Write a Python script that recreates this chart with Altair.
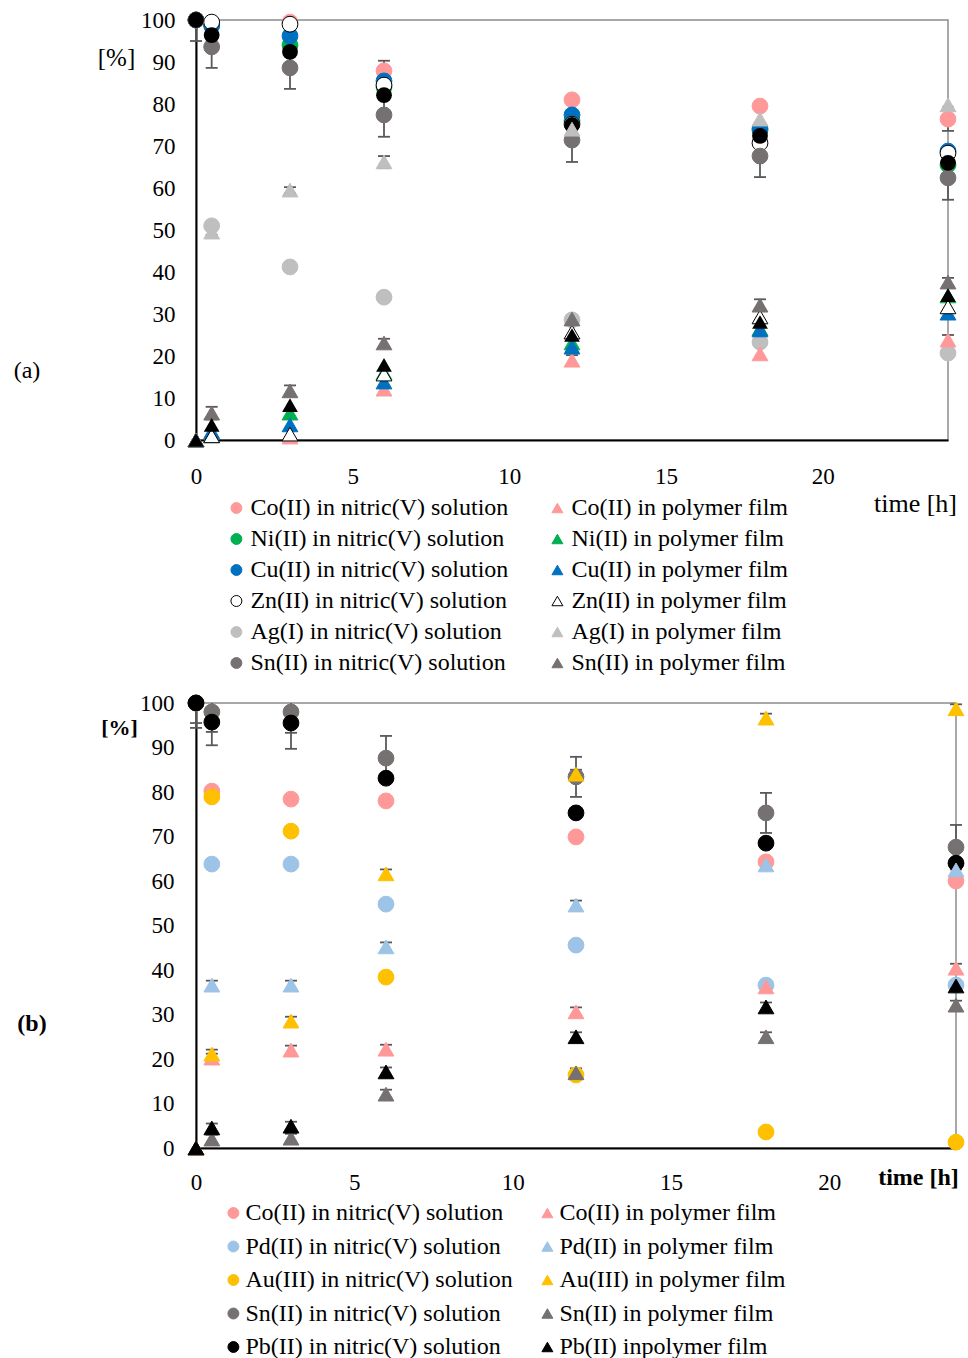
import altair as alt
import pandas as pd

FONT = "Liberation Serif"
TIMES = [0, 0.5, 3, 6, 12, 18, 24]
X_TICKS = [0, 5, 10, 15, 20]
Y_TICKS = [0, 10, 20, 30, 40, 50, 60, 70, 80, 90, 100]

# ---------------- panel (a) ----------------
A_SOL_LABELS = ["Co(II) in nitric(V) solution", "Ni(II) in nitric(V) solution",
                "Cu(II) in nitric(V) solution", "Zn(II) in nitric(V) solution",
                "Ag(I) in nitric(V) solution", "Sn(II) in nitric(V) solution"]
A_FILM_LABELS = ["Co(II) in polymer film", "Ni(II) in polymer film",
                 "Cu(II) in polymer film", "Zn(II) in polymer film",
                 "Ag(I) in polymer film", "Sn(II) in polymer film"]
A_FILLS = ["#FF9999", "#00B050", "#0070C0", "#FFFFFF", "#BFBFBF", "#767171"]
A_STROKES = ["#FF9999", "#00B050", "#0070C0", "#000000", "#BFBFBF", "#767171"]

a_co_sol = [100, 99, 99.5, 87.9, 81, 79.5, 76.4]
a_ni_sol = [100, 99, 94, 84, 76, 74.2, 65.5]
a_cu_sol = [100, 98.6, 96.2, 85.5, 77.4, 73.8, 68.8]
a_zn_sol = [100, 99.5, 99, 84.5, 75.2, 70.7, 68.3]
a_ag_sol = [100, 51, 41.2, 34, 28.6, 23.3, 20.7]
a_sn_sol = [100, 93.6, 88.6, 77.4, 71.4, 67.6, 62.4]
a_pb_sol = [100, 96.4, 92.4, 82.1, 75, 72.4, 66]

a_co_film = [0, 1, 0.7, 12.1, 19, 20.5, 23.8]
a_ni_film = [0, 1, 6.4, 16, 23.1, 26.5, 34.3]
a_cu_film = [0, 2, 3.6, 13.8, 22.1, 26.2, 30.2]
a_zn_film = [0, 1, 1.4, 15.7, 25.7, 29.3, 31.7]
a_ag_film = [0, 49.5, 59.5, 66.2, 74, 76.4, 79.8]
a_sn_film = [0, 6.4, 11.7, 23.1, 28.8, 32.1, 37.6]
a_pb_film = [0, 3.6, 8.3, 17.9, 25, 28.1, 34.5]

a_co_sol_err = [0, 0, 0, 2.4, 0, 0, 2.8]
a_sn_sol_err = [5, 5, 5, 5.2, 5.2, 5, 5.2]
a_ag_film_err = [0, 0.7, 0.7, 1.4, 0, 0, 0]
a_sn_film_err = [0, 1.5, 1.3, 1, 1, 1.4, 1]
a_co_film_err = [0, 0, 0, 0, 1.2, 0, 1.2]

# ---------------- panel (b) ----------------
B_SOL_LABELS = ["Co(II) in nitric(V) solution", "Pd(II) in nitric(V) solution",
                "Au(III) in nitric(V) solution", "Sn(II) in nitric(V) solution",
                "Pb(II) in nitric(V) solution"]
B_FILM_LABELS = ["Co(II) in polymer film", "Pd(II) in polymer film",
                 "Au(III) in polymer film", "Sn(II) in polymer film",
                 "Pb(II) inpolymer film"]
B_FILLS = ["#FF9999", "#9DC3E6", "#FFC000", "#767171", "#000000"]

b_co_sol = [100, 80.2, 78.4, 78, 69.9, 64.3, 60]
b_pd_sol = [100, 63.8, 63.8, 54.8, 45.6, 36.6, 36.6]
b_au_sol = [100, 78.9, 71.2, 38.4, 16.4, 3.6, 1.3]
b_sn_sol = [100, 98, 98, 87.6, 83.4, 75.3, 67.6]
b_pb_sol = [100, 95.7, 95.5, 83.1, 75.3, 68.5, 64]

b_co_film = [0, 20.2, 22, 22.2, 30.6, 36.2, 40.4]
b_pd_film = [0, 36.6, 36.6, 45.2, 54.6, 63.6, 62.5]
b_au_film = [0, 21.1, 28.5, 61.6, 84, 96.6, 98.7]
b_sn_film = [0, 2, 2.2, 12.1, 16.9, 25, 32.1]
b_pb_film = [0, 4.5, 4.9, 17.1, 25, 31.7, 36.4]

b_sn_sol_err = [4.5, 4.5, 4.7, 5, 4.5, 4.5, 5]
b_pb_sol_err = [5.6, 5.2, 5.8, 0, 0, 0, 0]
b_au_sol_err = [0, 0, 0.8, 0.8, 0.8, 0.8, 0]
b_film_err = [0, 1, 1, 1, 1, 1, 1]


def tables(sol_labels, film_labels, sols, films, errs):
    pts = []
    for lab, vals in zip(sol_labels, sols):
        for t, v in zip(TIMES, vals):
            pts.append({"series": lab, "kind": "sol", "t": t, "v": v})
    for lab, vals in zip(film_labels, films):
        for t, v in zip(TIMES, vals):
            pts.append({"series": lab, "kind": "film", "t": t, "v": v})
    er = []
    for vals, ers in errs:
        for t, v, e in zip(TIMES, vals, ers):
            if e > 0:
                er.append({"t": t, "v": v, "lo": max(v - e, 0), "hi": min(v + e, 100),
                           "lo_ok": v - e >= 0, "hi_ok": v + e <= 100})
    return pd.DataFrame(pts), pd.DataFrame(er)


YSC = alt.Scale(domain=[0, 100], nice=False)


def panel(pts, err, domain, fills, strokes, shapes, width, height, legend,
          xaxis, yaxis, extra_sol=None, extra_film=None, tag=None):
    X = alt.X("t:Q", scale=alt.Scale(domain=[0, 24], nice=False, zero=False), axis=xaxis)
    Y = alt.Y("v:Q", scale=YSC, axis=yaxis)
    enc = dict(
        fill=alt.Fill("series:N", scale=alt.Scale(domain=domain, range=fills), legend=legend),
        stroke=alt.Stroke("series:N", scale=alt.Scale(domain=domain, range=strokes), legend=legend),
        shape=alt.Shape("series:N", scale=alt.Scale(domain=domain, range=shapes), legend=legend),
    )
    ecol = "#595959"
    rules = alt.Chart(err).mark_rule(color=ecol, strokeWidth=1.8).encode(
        x=X, y=alt.Y("lo:Q", scale=YSC, axis=yaxis), y2="hi:Q")
    cap_lo = alt.Chart(err).transform_filter("datum.lo_ok").mark_tick(
        orient="horizontal", size=12, thickness=1.8, color=ecol, opacity=1).encode(
        x=X, y=alt.Y("lo:Q", scale=YSC, axis=yaxis))
    cap_hi = alt.Chart(err).transform_filter("datum.hi_ok").mark_tick(
        orient="horizontal", size=12, thickness=1.8, color=ecol, opacity=1).encode(
        x=X, y=alt.Y("hi:Q", scale=YSC, axis=yaxis))
    sol = alt.Chart(pts).transform_filter("datum.kind == 'sol'").mark_point(
        filled=True, opacity=1, size=250, strokeWidth=1).encode(x=X, y=Y, **enc)
    film = alt.Chart(pts).transform_filter("datum.kind == 'film'").mark_point(
        filled=True, opacity=1, size=250, strokeWidth=1).encode(x=X, y=Y, **enc)
    layers = [rules, cap_lo, cap_hi, sol]
    if extra_sol is not None:
        layers.append(extra_sol(X))
    layers.append(film)
    if extra_film is not None:
        layers.append(extra_film(X))
    if tag is not None:
        layers.append(tag)
    return alt.layer(*layers).properties(width=width, height=height)


legend_common = dict(title=None, columns=2, orient="none", symbolSize=120,
                     symbolStrokeWidth=1, labelFont=FONT, labelFontSize=24,
                     labelColor="black", labelLimit=400, symbolOpacity=1)

# ---- build panel (a)
a_pts, a_err = tables(
    A_SOL_LABELS, A_FILM_LABELS,
    [a_co_sol, a_ni_sol, a_cu_sol, a_zn_sol, a_ag_sol, a_sn_sol],
    [a_co_film, a_ni_film, a_cu_film, a_zn_film, a_ag_film, a_sn_film],
    [(a_co_sol, a_co_sol_err), (a_sn_sol, a_sn_sol_err), (a_ag_film, a_ag_film_err),
     (a_sn_film, a_sn_film_err), (a_co_film, a_co_film_err)])
a_pb = pd.DataFrame({"t": TIMES, "sol": a_pb_sol, "film": a_pb_film})

a_domain = A_SOL_LABELS + A_FILM_LABELS
a_fills = A_FILLS + A_FILLS
a_strokes = A_STROKES + A_STROKES
a_shapes = ["circle"] * len(A_SOL_LABELS) + ["triangle-up"] * len(A_FILM_LABELS)

a_legend = alt.Legend(legendX=28.4, legendY=476, columnPadding=37, rowPadding=7,
                      labelOffset=2, **legend_common)

a_xaxis = alt.Axis(values=X_TICKS, ticks=False, grid=False, domainColor="black", domainWidth=2,
                   labelFont=FONT, labelFontSize=23, labelColor="black", labelPadding=25,
                   labelFlush=False, title="time [h]", titleFont=FONT, titleFontSize=26,
                   titleFontWeight="normal", titleColor="black", titleX=719, titleY=63,
                   titleAlign="center", titleBaseline="middle")
a_yaxis = alt.Axis(values=Y_TICKS, ticks=False, grid=False, domainColor="black", domainWidth=2,
                   labelFont=FONT, labelFontSize=23, labelColor="black", labelPadding=21,
                   title="[%]", titleFont=FONT, titleFontSize=25, titleFontWeight="normal",
                   titleColor="black", titleAngle=0, titleX=-80, titleY=37,
                   titleAlign="center", titleBaseline="middle")


def a_pb_sol_layer(X):
    return alt.Chart(a_pb).mark_point(shape="circle", filled=True, opacity=1, size=250,
                                      color="black").encode(
        x=X, y=alt.Y("sol:Q", scale=YSC, axis=a_yaxis))


def a_pb_film_layer(X):
    return alt.Chart(a_pb).mark_point(shape="triangle-up", filled=True, opacity=1, size=250,
                                      color="black").encode(
        x=X, y=alt.Y("film:Q", scale=YSC, axis=a_yaxis))


a_tag = alt.Chart(pd.DataFrame({"s": ["(a)"]})).mark_text(
    font=FONT, fontSize=24, color="black", align="center", baseline="middle").encode(
    text="s:N", x=alt.value(-169), y=alt.value(351))

top = panel(a_pts, a_err, a_domain, a_fills, a_strokes, a_shapes, 752, 420, a_legend,
            a_xaxis, a_yaxis, a_pb_sol_layer, a_pb_film_layer, a_tag)

# ---- build panel (b)
b_pts, b_err = tables(
    B_SOL_LABELS, B_FILM_LABELS,
    [b_co_sol, b_pd_sol, b_au_sol, b_sn_sol, b_pb_sol],
    [b_co_film, b_pd_film, b_au_film, b_sn_film, b_pb_film],
    [(b_sn_sol, b_sn_sol_err), (b_pb_sol, b_pb_sol_err), (b_au_sol, b_au_sol_err),
     (b_co_film, b_film_err), (b_pd_film, b_film_err), (b_au_film, b_film_err),
     (b_sn_film, b_film_err), (b_pb_film, b_film_err)])

b_domain = B_SOL_LABELS + B_FILM_LABELS
b_fills = B_FILLS + B_FILLS
b_shapes = ["circle"] * len(B_SOL_LABELS) + ["triangle-up"] * len(B_FILM_LABELS)
b_legend = alt.Legend(legendX=25.4, legendY=498, columnPadding=22, rowPadding=9.5,
                      labelOffset=0, **legend_common)

b_xaxis = alt.Axis(values=X_TICKS, ticks=False, grid=False, domainColor="black", domainWidth=2,
                   labelFont=FONT, labelFontSize=23, labelColor="black", labelPadding=23,
                   labelFlush=False, title="time [h]", titleFont=FONT, titleFontSize=24,
                   titleFontWeight="bold", titleColor="black", titleX=722, titleY=29,
                   titleAlign="center", titleBaseline="middle")
b_yaxis = alt.Axis(values=Y_TICKS, ticks=False, grid=False, domainColor="black", domainWidth=2,
                   labelFont=FONT, labelFontSize=23, labelColor="black", labelPadding=22,
                   title="[%]", titleFont=FONT, titleFontSize=22, titleFontWeight="bold",
                   titleColor="black", titleAngle=0, titleX=-77, titleY=24,
                   titleAlign="center", titleBaseline="middle")

b_tag = alt.Chart(pd.DataFrame({"s": ["(b)"]})).mark_text(
    font=FONT, fontSize=24, color="black", align="center", baseline="middle",
    fontWeight="bold").encode(text="s:N", x=alt.value(-164), y=alt.value(321))

bottom = panel(b_pts, b_err, b_domain, b_fills, b_fills, b_shapes, 760, 445, b_legend,
               b_xaxis, b_yaxis, tag=b_tag)

chart = alt.vconcat(top, bottom, spacing=15).resolve_scale(
    x="independent", y="independent", fill="independent", stroke="independent",
    shape="independent").resolve_legend(fill="independent", stroke="independent",
                                         shape="independent").configure_view(
    stroke="#8c8c8c", strokeWidth=1.5).properties(
    padding={"left": 12, "top": 8, "right": 0, "bottom": 0}, background="white")

chart.save("out.html", embed_options={"renderer": "svg", "actions": False})
